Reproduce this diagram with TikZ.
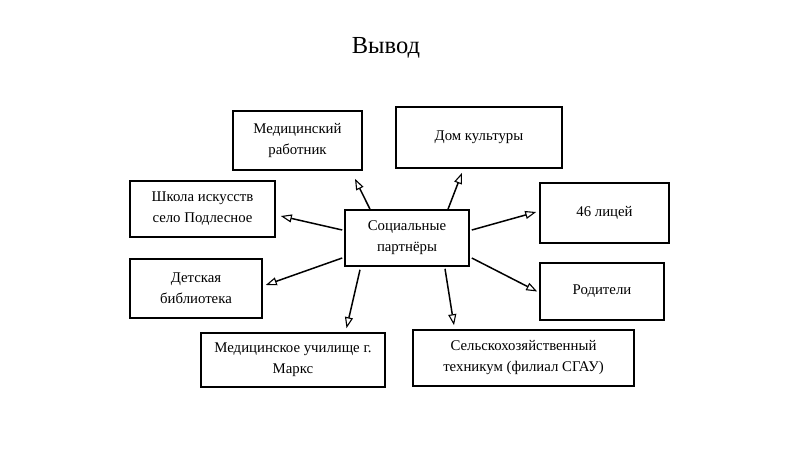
\documentclass[tikz,border=0pt]{standalone}
\usepackage{fontspec}
\setmainfont{Liberation Serif}
\usetikzlibrary{arrows.meta}
\tikzset{
  box/.style={draw=black, line width=1.6pt, align=center, font=\fontsize{14.8}{21}\selectfont, inner sep=2pt},
  arr/.style={line width=1.5pt, -{Triangle[open, length=11pt, width=8pt, line width=1.1pt]}}
}
\begin{document}
\begin{tikzpicture}[x=1pt, y=1pt]
\useasboundingbox (0,0) rectangle (800,-450);
\node (title) at (386,-48) {\fontsize{24.5}{28}\selectfont Вывод};

\node (soc) at (407,-238) [box, minimum width=124pt, minimum height=56pt] {Социальные\\партнёры};
\node (med) at (297.5,-140.5) [box, minimum width=129pt, minimum height=59pt] {Медицинский\\работник};
\node (dom) at (479,-137.5) [box, minimum width=166pt, minimum height=61pt] {Дом культуры};
\node (shk) at (202.5,-209) [box, minimum width=145pt, minimum height=56pt] {Школа искусств\\село Подлесное};
\node (lic) at (604.5,-213) [box, minimum width=129pt, minimum height=60pt] {46 лицей};
\node (det) at (196,-288.5) [box, minimum width=132pt, minimum height=59pt] {Детская\\библиотека};
\node (rod) at (602,-291.5) [box, minimum width=124pt, minimum height=57pt] {Родители};
\node (uch) at (293,-360) [box, minimum width=184pt, minimum height=54pt] {Медицинское училище г.\\Маркс};
\node (sel) at (523.5,-358) [box, minimum width=221pt, minimum height=56pt] {Сельскохозяйственный\\техникум (филиал СГАУ)};

\draw[arr] ([xshift=-37pt]soc.north) -- ([xshift=57.5pt, yshift=-8pt]med.south);
\draw[arr] ([xshift=41pt]soc.north) -- ([xshift=-17pt, yshift=-4pt]dom.south);
\draw[arr] ([xshift=-2pt, yshift=8pt]soc.west) -- ([xshift=5pt, yshift=-7pt]shk.east);
\draw[arr] ([xshift=2pt, yshift=8pt]soc.east) -- ([xshift=-3pt, yshift=1pt]lic.west);
\draw[arr] ([xshift=-2pt, yshift=-20pt]soc.west) -- ([xshift=3pt, yshift=3.5pt]det.east);
\draw[arr] ([xshift=2pt, yshift=-20pt]soc.east) -- ([xshift=-2pt]rod.west);
\draw[arr] ([xshift=-47pt, yshift=-3pt]soc.south) -- ([xshift=53.5pt, yshift=4pt]uch.north);
\draw[arr] ([xshift=38pt, yshift=-2pt]soc.south) -- ([xshift=-69.5pt, yshift=4pt]sel.north);
\end{tikzpicture}
\end{document}
